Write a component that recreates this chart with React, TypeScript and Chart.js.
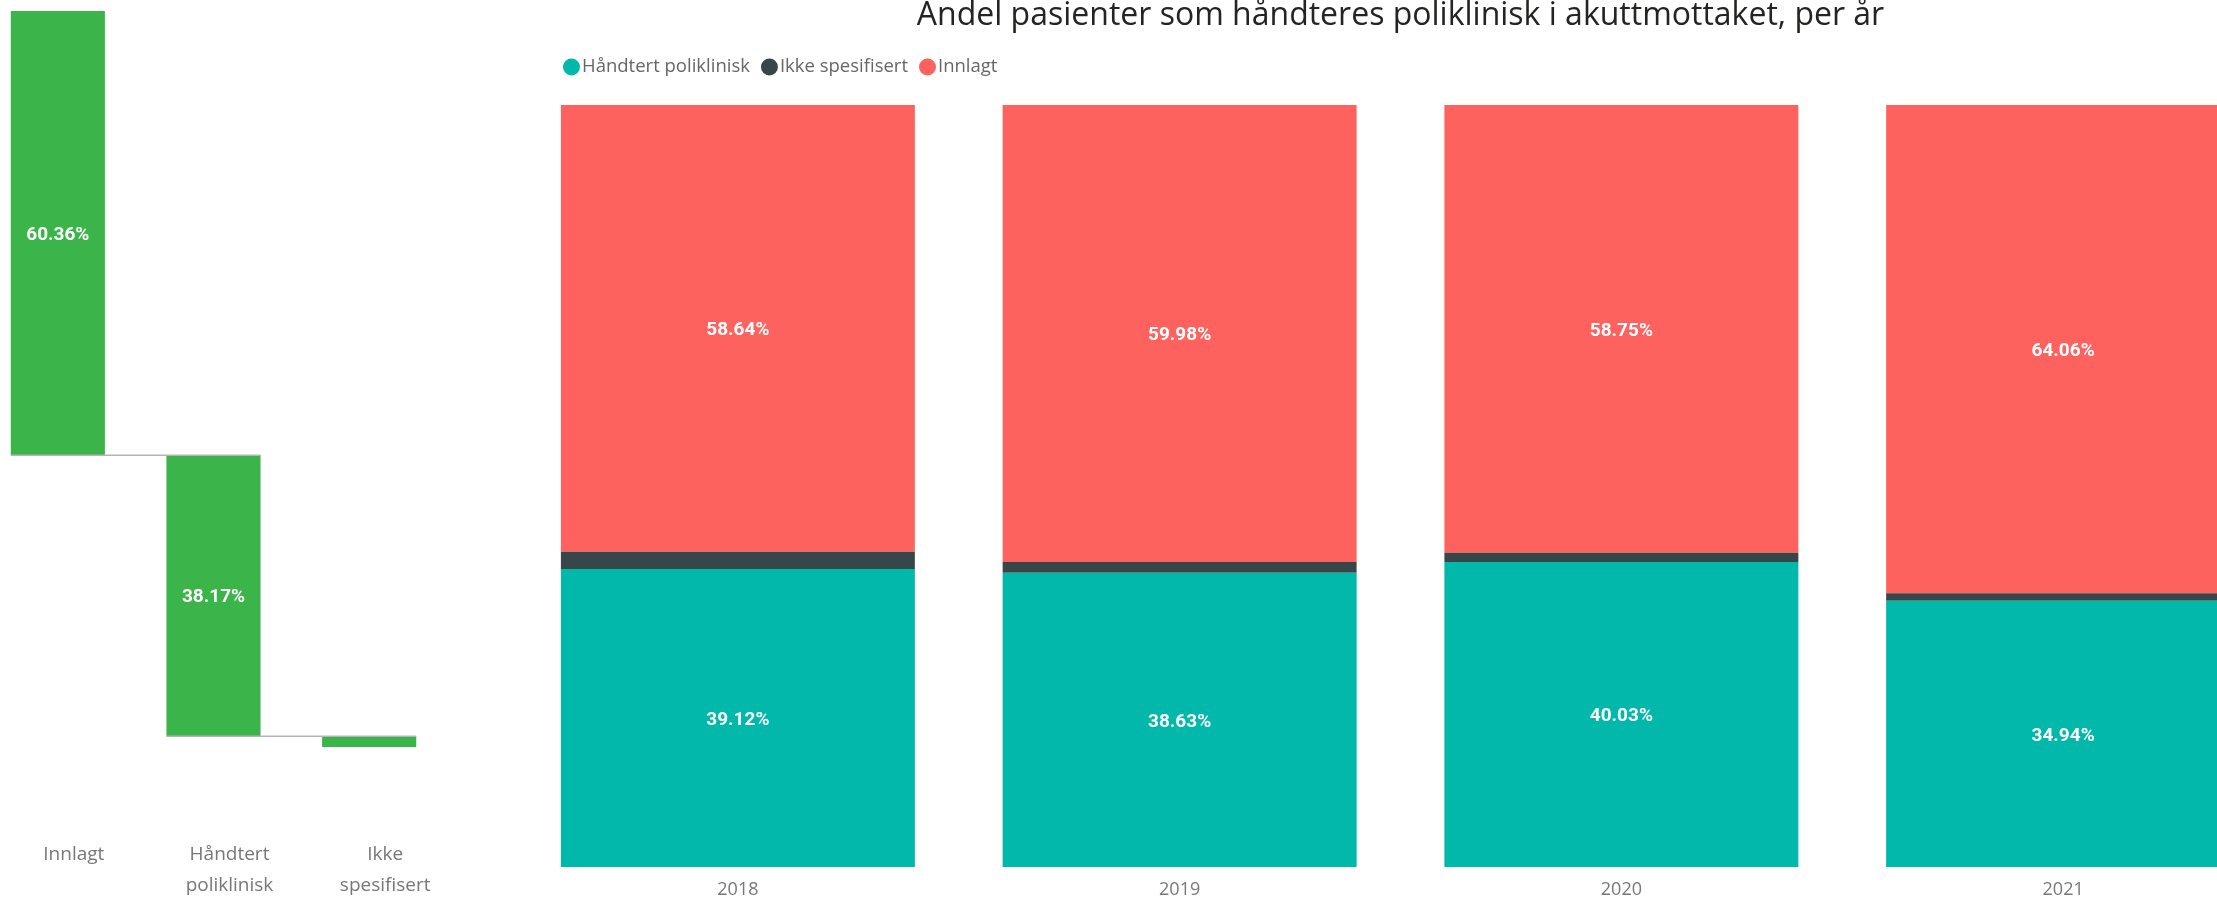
import React, { useEffect, useRef } from "react";
import { Chart, registerables } from "chart.js";

Chart.register(...registerables);

// ---------- data ----------
const waterfallCategories = ["Innlagt", "Håndtert poliklinisk", "Ikke spesifisert"];
const waterfallTickLabels = [["Innlagt"], ["Håndtert", "poliklinisk"], ["Ikke", "spesifisert"]];
const waterfallValues = [60.36, 38.17, 1.47];

const years = ["2018", "2019", "2020", "2021"];
const seriesNames = ["Håndtert poliklinisk", "Ikke spesifisert", "Innlagt"];
const handtertValues = [39.12, 38.63, 40.03, 34.94];
const ikkeValues = [2.24, 1.39, 1.22, 1.0];
const innlagtValues = [58.64, 59.98, 58.75, 64.06];

const titleText = "Andel pasienter som håndteres poliklinisk i akuttmottaket, per år";

// ---------- style ----------
const TEAL = "#01B8AA";
const DARK = "#374649";
const RED = "#FD625E";
const GREEN = "#3BB44A";
const UI_FONT = "'Open Sans', 'Noto Sans', sans-serif";
const LABEL_FONT = "bold 19px Roboto, 'DejaVu Sans', sans-serif";

const dataLabelPlugin = {
  id: "dataLabels",
  afterDatasetsDraw(chart: any) {
    const ctx = chart.ctx;
    ctx.save();
    ctx.font = LABEL_FONT;
    ctx.fillStyle = "#ffffff";
    ctx.textAlign = "center";
    ctx.textBaseline = "middle";
    chart.data.datasets.forEach((ds: any, di: number) => {
      const meta = chart.getDatasetMeta(di);
      meta.data.forEach((el: any, i: number) => {
        const p = el.getProps(["x", "y", "base"], true);
        const h = Math.abs(p.base - p.y);
        if (h < 30) return;
        const v = ds.labelValues ? ds.labelValues[i] : ds.data[i];
        ctx.fillText(Number(v).toFixed(2) + "%", p.x, (p.y + p.base) / 2 + 2);
      });
    });
    ctx.restore();
  },
};

const connectorPlugin = {
  id: "connectors",
  afterDatasetsDraw(chart: any) {
    const ctx = chart.ctx;
    const meta = chart.getDatasetMeta(0);
    const els = meta.data;
    ctx.save();
    ctx.strokeStyle = "#b5b5b5";
    ctx.lineWidth = 1.5;
    for (let i = 0; i < els.length - 1; i++) {
      const a = els[i].getProps(["x", "y", "base", "width"], true);
      const b = els[i + 1].getProps(["x", "y", "base", "width"], true);
      const yy = Math.max(a.y, a.base);
      ctx.beginPath();
      ctx.moveTo(a.x - a.width / 2, yy);
      ctx.lineTo(b.x + b.width / 2, yy);
      ctx.stroke();
    }
    ctx.restore();
  },
};

const customLegendPlugin = {
  id: "customLegend",
  afterDraw(chart: any, _args: any, opts: any) {
    const ctx = chart.ctx;
    ctx.save();
    ctx.font = opts.font;
    ctx.textBaseline = "middle";
    ctx.textAlign = "left";
    let x = chart.chartArea.left + opts.offsetX;
    const y = opts.y;
    const r = opts.radius;
    chart.data.datasets.forEach((ds: any) => {
      ctx.fillStyle = ds.backgroundColor;
      ctx.beginPath();
      ctx.arc(x + r, y, r, 0, Math.PI * 2);
      ctx.fill();
      x += 2 * r + opts.gap;
      ctx.fillStyle = opts.color;
      ctx.fillText(ds.label, x, y);
      x += ctx.measureText(ds.label).width + opts.itemGap;
    });
    ctx.restore();
  },
};

function WaterfallChart() {
  const ref = useRef<HTMLCanvasElement>(null);
  useEffect(() => {
    if (!ref.current) return;
    let running = 100;
    const ranges = waterfallValues.map((v) => {
      const hi = running;
      running = Math.max(0, running - v);
      return [running, hi];
    });
    const chart = new Chart(ref.current, {
      type: "bar",
      data: {
        labels: waterfallTickLabels as any,
        datasets: [
          {
            label: "Andel",
            data: ranges as any,
            backgroundColor: GREEN,
            borderWidth: 0,
            barPercentage: 0.6045,
            categoryPercentage: 1,
            labelValues: waterfallValues,
          } as any,
        ],
      },
      options: {
        responsive: false,
        animation: false,
        layout: { padding: { top: 11, left: 0, right: 0, bottom: 0 } },
        plugins: { legend: { display: false }, tooltip: { enabled: false }, title: { display: false } },
        scales: {
          x: {
            grid: { display: false, drawTicks: true, tickLength: 91 },
            border: { display: false },
            ticks: {
              color: "#777777",
              font: { family: UI_FONT, size: 19, lineHeight: 1.63 },
              padding: 1,
              labelOffset: 16,
              autoSkip: false,
              maxRotation: 0,
            },
            afterFit: (s: any) => {
              s.height = 150;
            },
          },
          y: { display: false, min: 0, max: 100 },
        },
      },
      plugins: [connectorPlugin, dataLabelPlugin],
    });
    return () => chart.destroy();
  }, []);
  return (
    <canvas
      ref={ref}
      width={467}
      height={897}
      style={{ position: "absolute", left: -20, top: 0, width: 467, height: 897 }}
      aria-label={waterfallCategories.join(", ")}
    />
  );
}

function StackedChart() {
  const ref = useRef<HTMLCanvasElement>(null);
  useEffect(() => {
    if (!ref.current) return;
    const chart = new Chart(ref.current, {
      type: "bar",
      data: {
        labels: years,
        datasets: [
          { label: seriesNames[0], data: handtertValues, backgroundColor: TEAL, borderWidth: 0 },
          { label: seriesNames[1], data: ikkeValues, backgroundColor: DARK, borderWidth: 0 },
          { label: seriesNames[2], data: innlagtValues, backgroundColor: RED, borderWidth: 0 },
        ],
      },
      options: {
        responsive: false,
        animation: false,
        datasets: { bar: { barPercentage: 0.8013, categoryPercentage: 1 } },
        layout: { padding: { top: 0, left: 0, right: 0, bottom: 0 } },
        plugins: {
          legend: { display: false },
          tooltip: { enabled: false },
          title: {
            display: true,
            text: titleText,
            align: "center",
            color: "#252423",
            font: { family: UI_FONT, size: 32, weight: "normal", lineHeight: 1.0 },
            padding: { top: 0, bottom: 73 },
          },
          customLegend: {
            font: "18.5px " + UI_FONT,
            color: "#666666",
            offsetX: 46,
            y: 67,
            radius: 8.5,
            gap: 2,
            itemGap: 11,
          },
        } as any,
        scales: {
          x: {
            stacked: true,
            grid: { display: false, drawTicks: true, tickLength: 12 },
            border: { display: false },
            ticks: { color: "#777777", font: { family: UI_FONT, size: 18 }, padding: 0 },
            afterFit: (s: any) => {
              s.height = 30;
            },
          },
          y: { stacked: true, display: false, min: 0, max: 100 },
        },
      },
      plugins: [dataLabelPlugin, customLegendPlugin],
    });
    return () => chart.destroy();
  }, []);
  return (
    <canvas
      ref={ref}
      width={1767}
      height={897}
      style={{ position: "absolute", left: 517, top: 0, width: 1767, height: 897 }}
    />
  );
}

export default function App() {
  return (
    <div
      style={{
        position: "absolute",
        left: 0,
        top: 0,
        width: 2217,
        height: 897,
        overflow: "hidden",
        background: "#ffffff",
      }}
    >
      <WaterfallChart />
      <StackedChart />
    </div>
  );
}
